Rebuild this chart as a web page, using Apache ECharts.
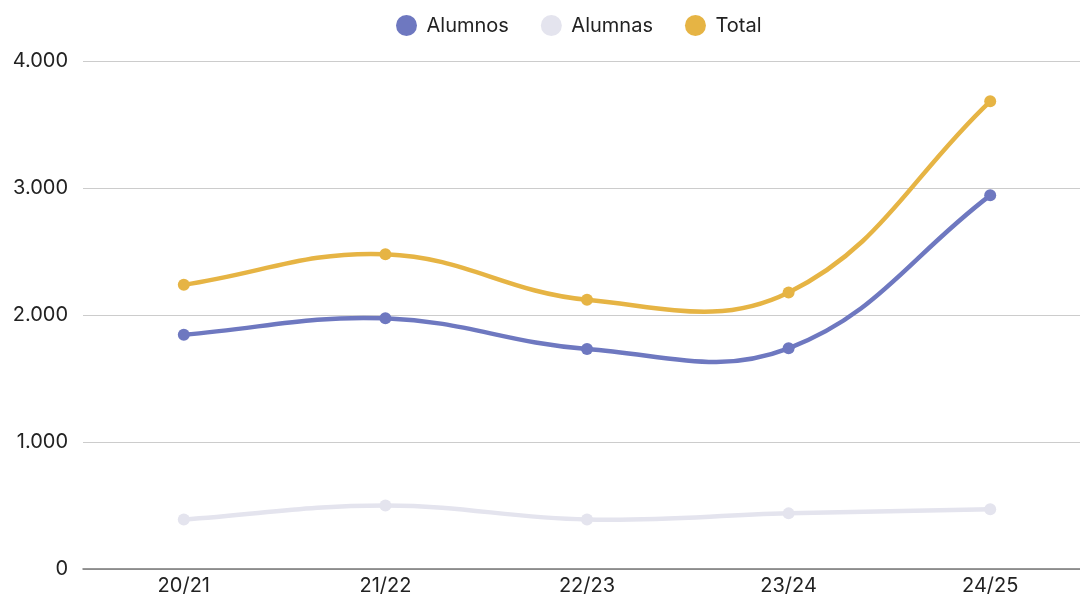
<!DOCTYPE html>
<html><head><meta charset="utf-8">
<script src="https://cdn.jsdelivr.net/npm/echarts@6/dist/echarts.min.js"></script>
<style>html,body{margin:0;padding:0;background:#fff;overflow:hidden;width:1080px;height:596px}#c{width:1093px;height:596px}</style>
</head><body><div id="c"></div>
<script>
const categories = ['20/21','21/22','22/23','23/24','24/25'];
const alumnos = [1845, 1974, 1733, 1738, 2942];
const alumnas = [390, 500, 390, 438, 470];
const total = [2238, 2479, 2120, 2178, 3683];

const chart = echarts.init(document.getElementById('c'));
const font = 'Inter, "Noto Sans", sans-serif';
const TENSION = 0.4;

function splinePath(p){
  const n = p.length, cp = [];
  for (let i=0;i<n;i++){
    const prev = p[Math.max(0,i-1)], cur = p[i], next = p[Math.min(n-1,i+1)];
    const d01 = Math.hypot(cur[0]-prev[0], cur[1]-prev[1]);
    const d12 = Math.hypot(next[0]-cur[0], next[1]-cur[1]);
    const s = d01 + d12 || 1;
    const fa = TENSION*d01/s, fb = TENSION*d12/s;
    cp.push({
      a:[cur[0]-fa*(next[0]-prev[0]), cur[1]-fa*(next[1]-prev[1])],
      b:[cur[0]+fb*(next[0]-prev[0]), cur[1]+fb*(next[1]-prev[1])]
    });
  }
  let d = 'M'+p[0][0]+' '+p[0][1];
  for (let i=1;i<n;i++){
    d += ' C'+cp[i-1].b[0]+' '+cp[i-1].b[1]+' '+cp[i].a[0]+' '+cp[i].a[1]+' '+p[i][0]+' '+p[i][1];
  }
  return d;
}

function curve(name, values, color){
  return {name, type:'custom', z:2, silent:true,
    data: values.map((v,i)=>[i,v]),
    encode:{x:0,y:1},
    itemStyle:{color},
    renderItem:function(params, api){
      if (params.dataIndex !== 0) return;
      const pts = values.map((v,i)=>api.coord([i,v]));
      return {type:'path', shape:{pathData:splinePath(pts)},
        style:{fill:'none', stroke:color, lineWidth:4.5, lineCap:'round', lineJoin:'round'}};
    }};
}
function points(name, values, color){
  return {name, type:'line', data:values, symbol:'circle', symbolSize:12, z:3,
    lineStyle:{opacity:0, width:0}, itemStyle:{color}};
}
chart.setOption({
  animation:false,
  textStyle:{fontFamily:font},
  legend:{top:10, left:391, itemWidth:30, itemHeight:21, itemGap:32, icon:'circle',
    textStyle:{fontSize:20, color:'#222', fontFamily:font},
    data:['Alumnos','Alumnas','Total']},
  grid:{left:83, right:2, top:61, height:510},
  xAxis:{type:'category', data:categories, boundaryGap:true,
    axisLine:{lineStyle:{color:'#777', width:1.5}}, axisTick:{show:false},
    axisLabel:{fontSize:20, color:'#222', margin:7, fontFamily:font}},
  yAxis:{type:'value', min:0, max:4000, interval:1000,
    axisLabel:{fontSize:20, color:'#222', margin:15, fontFamily:font,
      formatter:v=>v===0?'0':v.toLocaleString('de-DE')},
    splitLine:{lineStyle:{color:'#ccc'}}},
  series:[
    points('Alumnos', alumnos, '#6e78c0'), points('Alumnas', alumnas, '#e4e4ee'), points('Total', total, '#e6b444'),
    curve('Alumnas', alumnas, '#e4e4ee'), curve('Alumnos', alumnos, '#6e78c0'), curve('Total', total, '#e6b444')
  ]
});
</script></body></html>
